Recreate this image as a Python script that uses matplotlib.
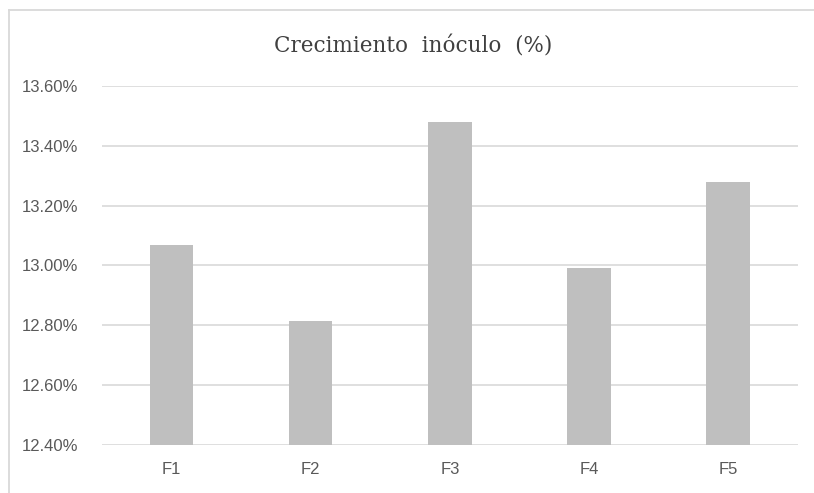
import matplotlib
matplotlib.use('Agg')
import matplotlib.pyplot as plt
from matplotlib.ticker import FuncFormatter
from matplotlib.lines import Line2D

# growth per formulation (%)
labels = ['F1', 'F2', 'F3', 'F4', 'F5']
growth = [13.07, 12.815, 13.478, 12.99, 13.279]
yticks = [12.40, 12.60, 12.80, 13.00, 13.20, 13.40, 13.60]

txt_col = '#595959'
grid_col = '#D9D9D9'
bar_col = '#BFBFBF'

fig = plt.figure(figsize=(8.14, 4.93), dpi=100)
ax = fig.add_axes([0.1253, 0.0974, 0.8547, 0.7282])

x = range(len(labels))
ax.bar(x, [g - yticks[0] for g in growth], bottom=yticks[0], width=0.313,
       color=bar_col, zorder=3)

ax.set_xlim(-0.5, len(labels) - 0.5)
ax.set_ylim(yticks[0], yticks[-1])
ax.set_yticks(yticks)
ax.yaxis.set_major_formatter(FuncFormatter(lambda v, p: '%.2f%%' % v))
ax.set_xticks(list(x))
ax.set_xticklabels(labels)

ax.grid(axis='y', color=grid_col, linewidth=1.2, zorder=0)
for s in ax.spines.values():
    s.set_visible(False)
ax.tick_params(length=0, labelsize=12, labelcolor=txt_col)
ax.tick_params(axis='y', pad=17)
ax.tick_params(axis='x', pad=12)
for t in ax.get_xticklabels() + ax.get_yticklabels():
    t.set_fontfamily('Liberation Sans')

fig.text(0.508, 0.905, 'Crecimiento  inóculo  (%)', ha='center', va='center',
         fontsize=15.5, color='#404040', family='DejaVu Serif')

# chart frame (only top and left edges fall inside the canvas)
fig.add_artist(Line2D([9/814, 1], [1 - 9.5/493, 1 - 9.5/493],
                      transform=fig.transFigure, color=grid_col, lw=1.3))
fig.add_artist(Line2D([9/814, 9/814], [0, 1 - 9.5/493],
                      transform=fig.transFigure, color=grid_col, lw=1.3))

fig.savefig('out.png', dpi=100)
